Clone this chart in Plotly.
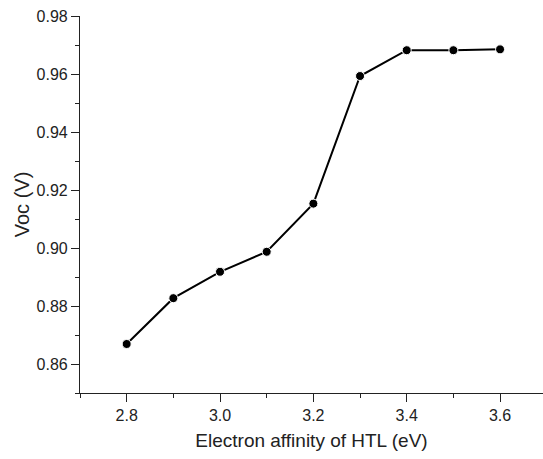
import plotly.graph_objects as go

# Electron affinity of the HTL (eV) and the resulting open-circuit voltage (V)
electron_affinity = [2.8, 2.9, 3.0, 3.1, 3.2, 3.3, 3.4, 3.5, 3.6]
voc = [0.8669, 0.8827, 0.8918, 0.8987, 0.9153, 0.9593, 0.9682, 0.9682, 0.9685]

x_ticks = [2.8, 3.0, 3.2, 3.4, 3.6]
y_ticks = [0.86, 0.88, 0.90, 0.92, 0.94, 0.96, 0.98]

FONT = "Liberation Sans, Arial, sans-serif"
INK = "#222222"

fig = go.Figure(
    go.Scatter(
        x=electron_affinity,
        y=voc,
        mode="lines+markers",
        line=dict(color="black", width=2),
        marker=dict(color="black", size=9, line=dict(color="white", width=1)),
        showlegend=False,
    )
)

axis_common = dict(
    showgrid=False,
    zeroline=False,
    showline=True,
    linecolor=INK,
    linewidth=1.2,
    ticks="outside",
    ticklen=8,
    tickwidth=1.2,
    tickcolor=INK,
    tickfont=dict(family=FONT, size=16, color=INK),
    mirror=False,
)

fig.update_layout(
    width=543,
    height=459,
    margin=dict(l=80, r=0, t=16, b=66),
    paper_bgcolor="white",
    plot_bgcolor="white",
    font=dict(family=FONT, color=INK),
    xaxis=dict(
        **axis_common,
        range=[2.7, 3.692],
        tickvals=x_ticks,
        ticktext=[f"{v:.1f}" for v in x_ticks],
        minor=dict(dtick=0.1, tick0=2.7, ticks="outside", ticklen=4,
                   tickwidth=1.2, tickcolor=INK),
        title=dict(text="Electron affinity of HTL (eV)",
                   font=dict(family=FONT, size=19, color=INK), standoff=10),
    ),
    yaxis=dict(
        **axis_common,
        range=[0.85, 0.98],
        tickvals=y_ticks,
        ticktext=[f"{v:.2f}" for v in y_ticks],
        minor=dict(dtick=0.01, tick0=0.85, ticks="outside", ticklen=4,
                   tickwidth=1.2, tickcolor=INK),
        title=dict(text="Voc (V)",
                   font=dict(family=FONT, size=20, color=INK), standoff=1),
    ),
)

fig.write_html("out.html")
